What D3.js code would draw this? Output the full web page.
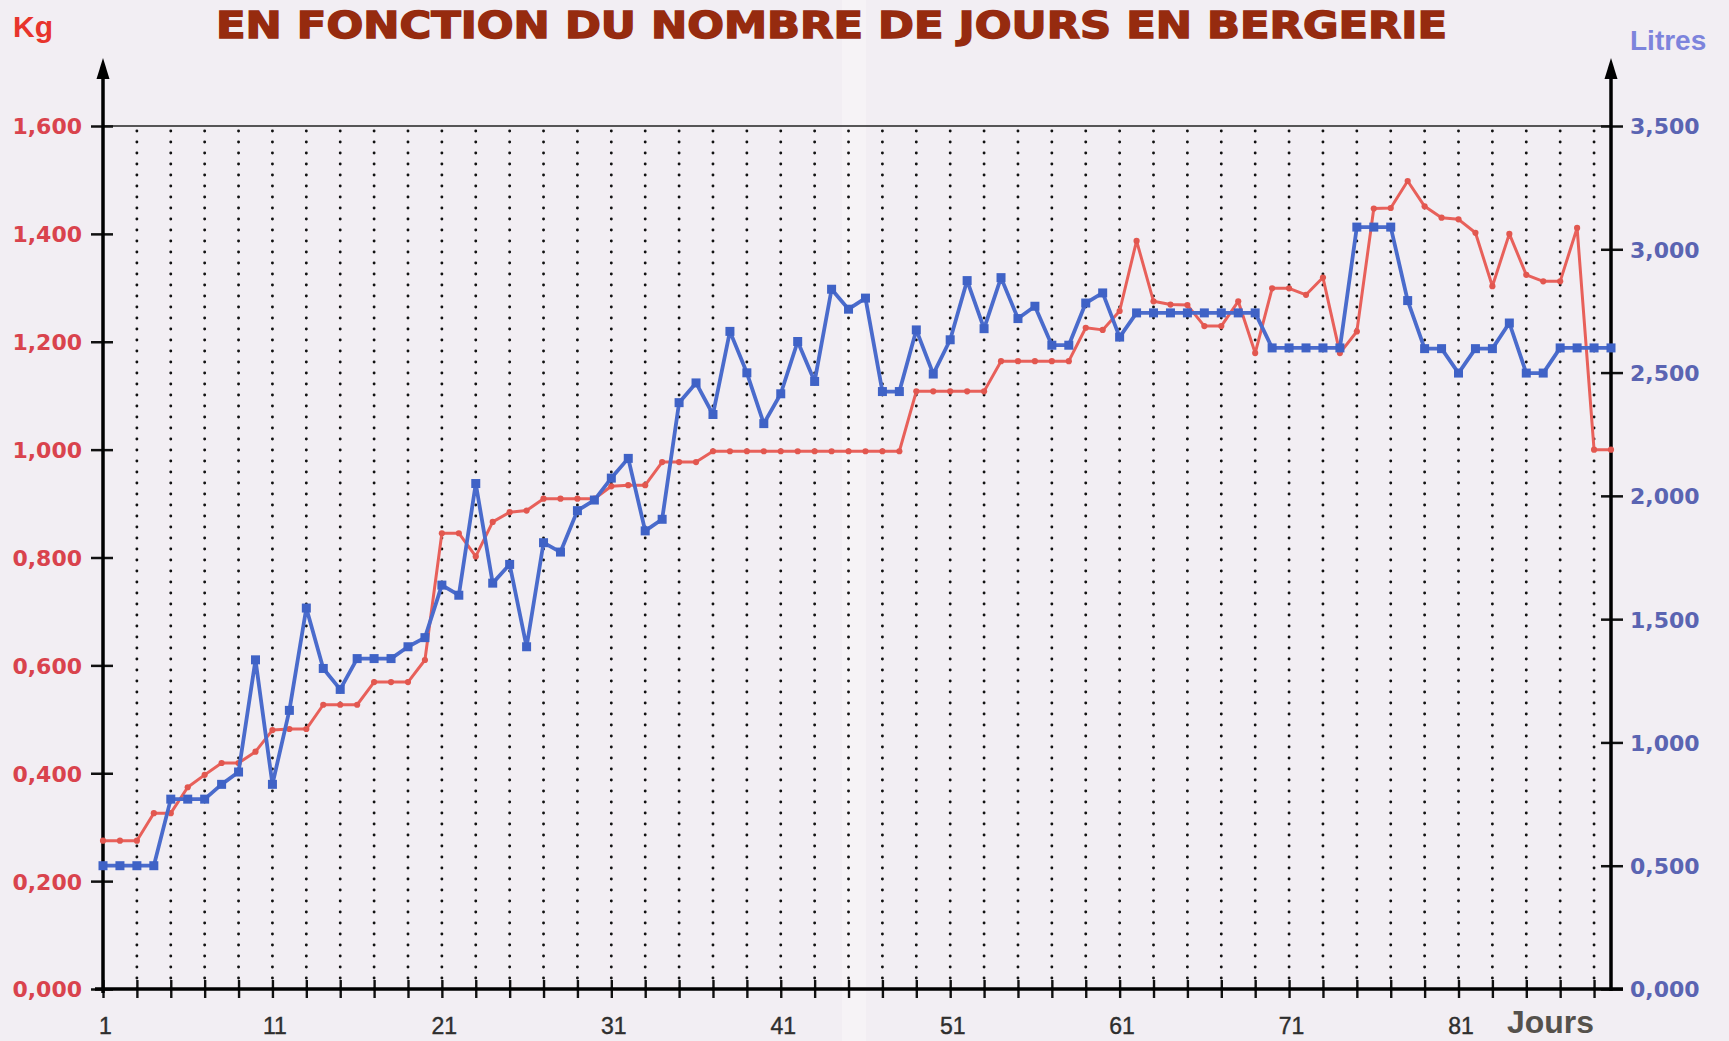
<!DOCTYPE html>
<html>
<head>
<meta charset="utf-8">
<script src="https://cdn.jsdelivr.net/npm/d3@7"></script>
<style>
html,body{margin:0;padding:0;background:#f2eef3;}
svg{display:block;}
</style>
</head>
<body>
<svg id="chart" width="1729" height="1041"></svg>
<script>
// ---------- DATA ----------
const title = "EN FONCTION DU NOMBRE DE JOURS EN BERGERIE";
const days = d3.range(1, 91);
const kg = [
  0.275,0.275,0.275,0.326,0.326,0.374,0.397,0.419,0.419,0.440,
  0.480,0.482,0.482,0.527,0.527,0.527,0.569,0.569,0.569,0.610,
  0.845,0.845,0.802,0.866,0.884,0.887,0.909,0.909,0.909,0.909,
  0.932,0.934,0.934,0.977,0.977,0.977,0.997,0.997,0.997,0.997,
  0.997,0.997,0.997,0.997,0.997,0.997,0.997,0.997,1.108,1.108,
  1.108,1.108,1.108,1.164,1.164,1.164,1.164,1.164,1.226,1.222,
  1.257,1.387,1.275,1.269,1.268,1.229,1.229,1.275,1.179,1.299,
  1.299,1.287,1.319,1.179,1.219,1.447,1.448,1.498,1.451,1.430,
  1.427,1.402,1.303,1.400,1.324,1.312,1.312,1.411,1.000,1.000
];
const litres = [
  500,500,500,500,770,770,770,830,880,1335,
  830,1130,1545,1300,1215,1340,1340,1340,1388,1425,
  1638,1597,2050,1646,1722,1388,1810,1772,1940,1983,
  2072,2152,1858,1905,2378,2458,2330,2667,2499,2293,
  2414,2626,2464,2838,2757,2802,2423,2423,2673,2494,
  2633,2873,2678,2885,2719,2769,2611,2611,2782,2823,
  2644,2742,2742,2742,2742,2742,2742,2742,2742,2600,
  2600,2600,2600,2600,3090,3090,3090,2792,2597,2597,
  2498,2597,2597,2701,2498,2498,2600,2600,2600,2600
];
const dayLabels = [1,11,21,31,41,51,61,71,81];
const gridDays = d3.range(3, 90, 2);
const kgTicks = [0,0.2,0.4,0.6,0.8,1.0,1.2,1.4,1.6];
const litreTicks = [0,500,1000,1500,2000,2500,3000,3500];

// ---------- LAYOUT ----------
const svg = d3.select("#chart");
const X0 = 103, X1 = 1611, YT = 126, YB = 989;
const x = d3.scaleLinear().domain([1, 90]).range([X0, X1]);
const yK = d3.scaleLinear().domain([0, 1.6]).range([YB, YT]);
const yL = d3.scaleLinear().domain([0, 3500]).range([YB, YT]);
const fmtComma = v => v.toFixed(3).replace(".", ",");

svg.append("rect").attr("width",1729).attr("height",1041).attr("fill","#f2eef3");
// paper fold highlight
svg.append("rect").attr("x",842).attr("y",0).attr("width",24).attr("height",1041)
  .attr("fill","#ffffff").attr("opacity",0.3);

// Title
svg.append("text").attr("x",216).attr("y",38)
  .attr("textLength",1231).attr("lengthAdjust","spacingAndGlyphs")
  .attr("font-family","DejaVu Sans, sans-serif").attr("font-weight","bold")
  .attr("font-size",38).attr("fill","#962b0f").attr("stroke","#962b0f").attr("stroke-width",1.5)
  .text(title);

svg.append("text").attr("x",13).attr("y",37)
  .attr("font-family","Liberation Sans, Arial, sans-serif").attr("font-weight","bold")
  .attr("font-size",30).attr("fill","#e8342c").text("Kg");
svg.append("text").attr("x",1630).attr("y",50)
  .attr("font-family","Liberation Sans, Arial, sans-serif").attr("font-weight","bold")
  .attr("font-size",28).attr("fill","#7d84dc").text("Litres");
svg.append("text").attr("x",1507).attr("y",1033)
  .attr("textLength",87).attr("lengthAdjust","spacingAndGlyphs")
  .attr("font-family","Liberation Sans, Arial, sans-serif").attr("font-weight","bold")
  .attr("font-size",31).attr("fill","#55514c").text("Jours");

// Dotted grid
svg.append("g").selectAll("line").data(gridDays).join("line")
  .attr("x1",d=>x(d)).attr("x2",d=>x(d)).attr("y1",YB).attr("y2",YT+4)
  .attr("stroke","#111").attr("stroke-width",2.9).attr("stroke-linecap","round")
  .attr("stroke-dasharray","0.1 10.9");

// Top frame line
svg.append("line").attr("x1",X0).attr("x2",X1).attr("y1",YT).attr("y2",YT)
  .attr("stroke","#222").attr("stroke-width",1.6);

// Left axis
const gL = svg.append("g").attr("transform",`translate(${X0},0)`)
  .call(d3.axisLeft(yK).tickValues(kgTicks).tickFormat(fmtComma).tickSize(11));
gL.select(".domain").remove();
gL.selectAll(".tick line").attr("x1",-12).attr("x2",10).attr("stroke","#111").attr("stroke-width",2.5);
gL.selectAll(".tick text").attr("x",-21).attr("dy","0.36em")
  .attr("font-family","DejaVu Sans, sans-serif")
  .attr("font-weight","bold").attr("font-size",22).attr("fill","#d9434d");

// Right axis
const gR = svg.append("g").attr("transform",`translate(${X1},0)`)
  .call(d3.axisRight(yL).tickValues(litreTicks).tickFormat(v=>fmtComma(v/1000)).tickSize(11));
gR.select(".domain").remove();
gR.selectAll(".tick line").attr("x1",-10).attr("x2",12).attr("stroke","#111").attr("stroke-width",2.5);
gR.selectAll(".tick text").attr("x",19).attr("dy","0.36em")
  .attr("font-family","DejaVu Sans, sans-serif")
  .attr("font-weight","bold").attr("font-size",22).attr("fill","#5a64b2");

// Bottom axis ticks
const gB = svg.append("g").attr("transform",`translate(0,${YB})`)
  .call(d3.axisBottom(x).tickValues(gridDays.concat([1])).tickFormat("").tickSize(8));
gB.select(".domain").remove();
gB.selectAll(".tick line").attr("y1",-9).attr("y2",9).attr("stroke","#111").attr("stroke-width",2.4);
const gB2 = svg.append("g").attr("transform",`translate(0,${YB})`)
  .call(d3.axisBottom(x).tickValues(dayLabels).tickFormat(d3.format("d")).tickSize(0));
gB2.select(".domain").remove();
gB2.selectAll(".tick text").attr("y",45).attr("dy",0).attr("dx",2)
  .attr("font-family","Liberation Sans, Arial, sans-serif")
  .attr("font-size",23).attr("fill","#2e2e2e").attr("stroke","#2e2e2e").attr("stroke-width",0.4);

// Axis lines with arrows
const axisG = svg.append("g").attr("stroke","#000").attr("stroke-width",3.5);
axisG.append("line").attr("x1",X0-8).attr("x2",X1+12).attr("y1",YB).attr("y2",YB);
axisG.append("line").attr("x1",X0).attr("x2",X0).attr("y1",YB+4).attr("y2",72);
axisG.append("line").attr("x1",X1).attr("x2",X1).attr("y1",YB+2).attr("y2",72);
[X0, X1].forEach(px => {
  svg.append("path").attr("d",`M${px-6.5},79 L${px},58 L${px+6.5},79 Z`).attr("fill","#000");
});

// Red series (kg)
const red = "#e8605a";
svg.append("path").datum(days)
  .attr("d", d3.line().x(d=>x(d)).y((d,i)=>yK(kg[i])))
  .attr("fill","none").attr("stroke",red).attr("stroke-width",3).attr("stroke-linejoin","round");
svg.append("g").selectAll("circle").data(days).join("circle")
  .attr("cx",d=>x(d)).attr("cy",(d,i)=>yK(kg[i])).attr("r",3.1)
  .attr("fill","#e2574f");

// Blue series (litres)
const blue = "#4a6bcc";
svg.append("path").datum(days)
  .attr("d", d3.line().x(d=>x(d)).y((d,i)=>yL(litres[i])))
  .attr("fill","none").attr("stroke",blue).attr("stroke-width",3.8).attr("stroke-linejoin","round");
svg.append("g").selectAll("rect").data(days).join("rect")
  .attr("x",d=>x(d)-4.5).attr("y",(d,i)=>yL(litres[i])-4.5).attr("width",9).attr("height",9)
  .attr("fill","#3f62c6");
</script>
</body>
</html>
